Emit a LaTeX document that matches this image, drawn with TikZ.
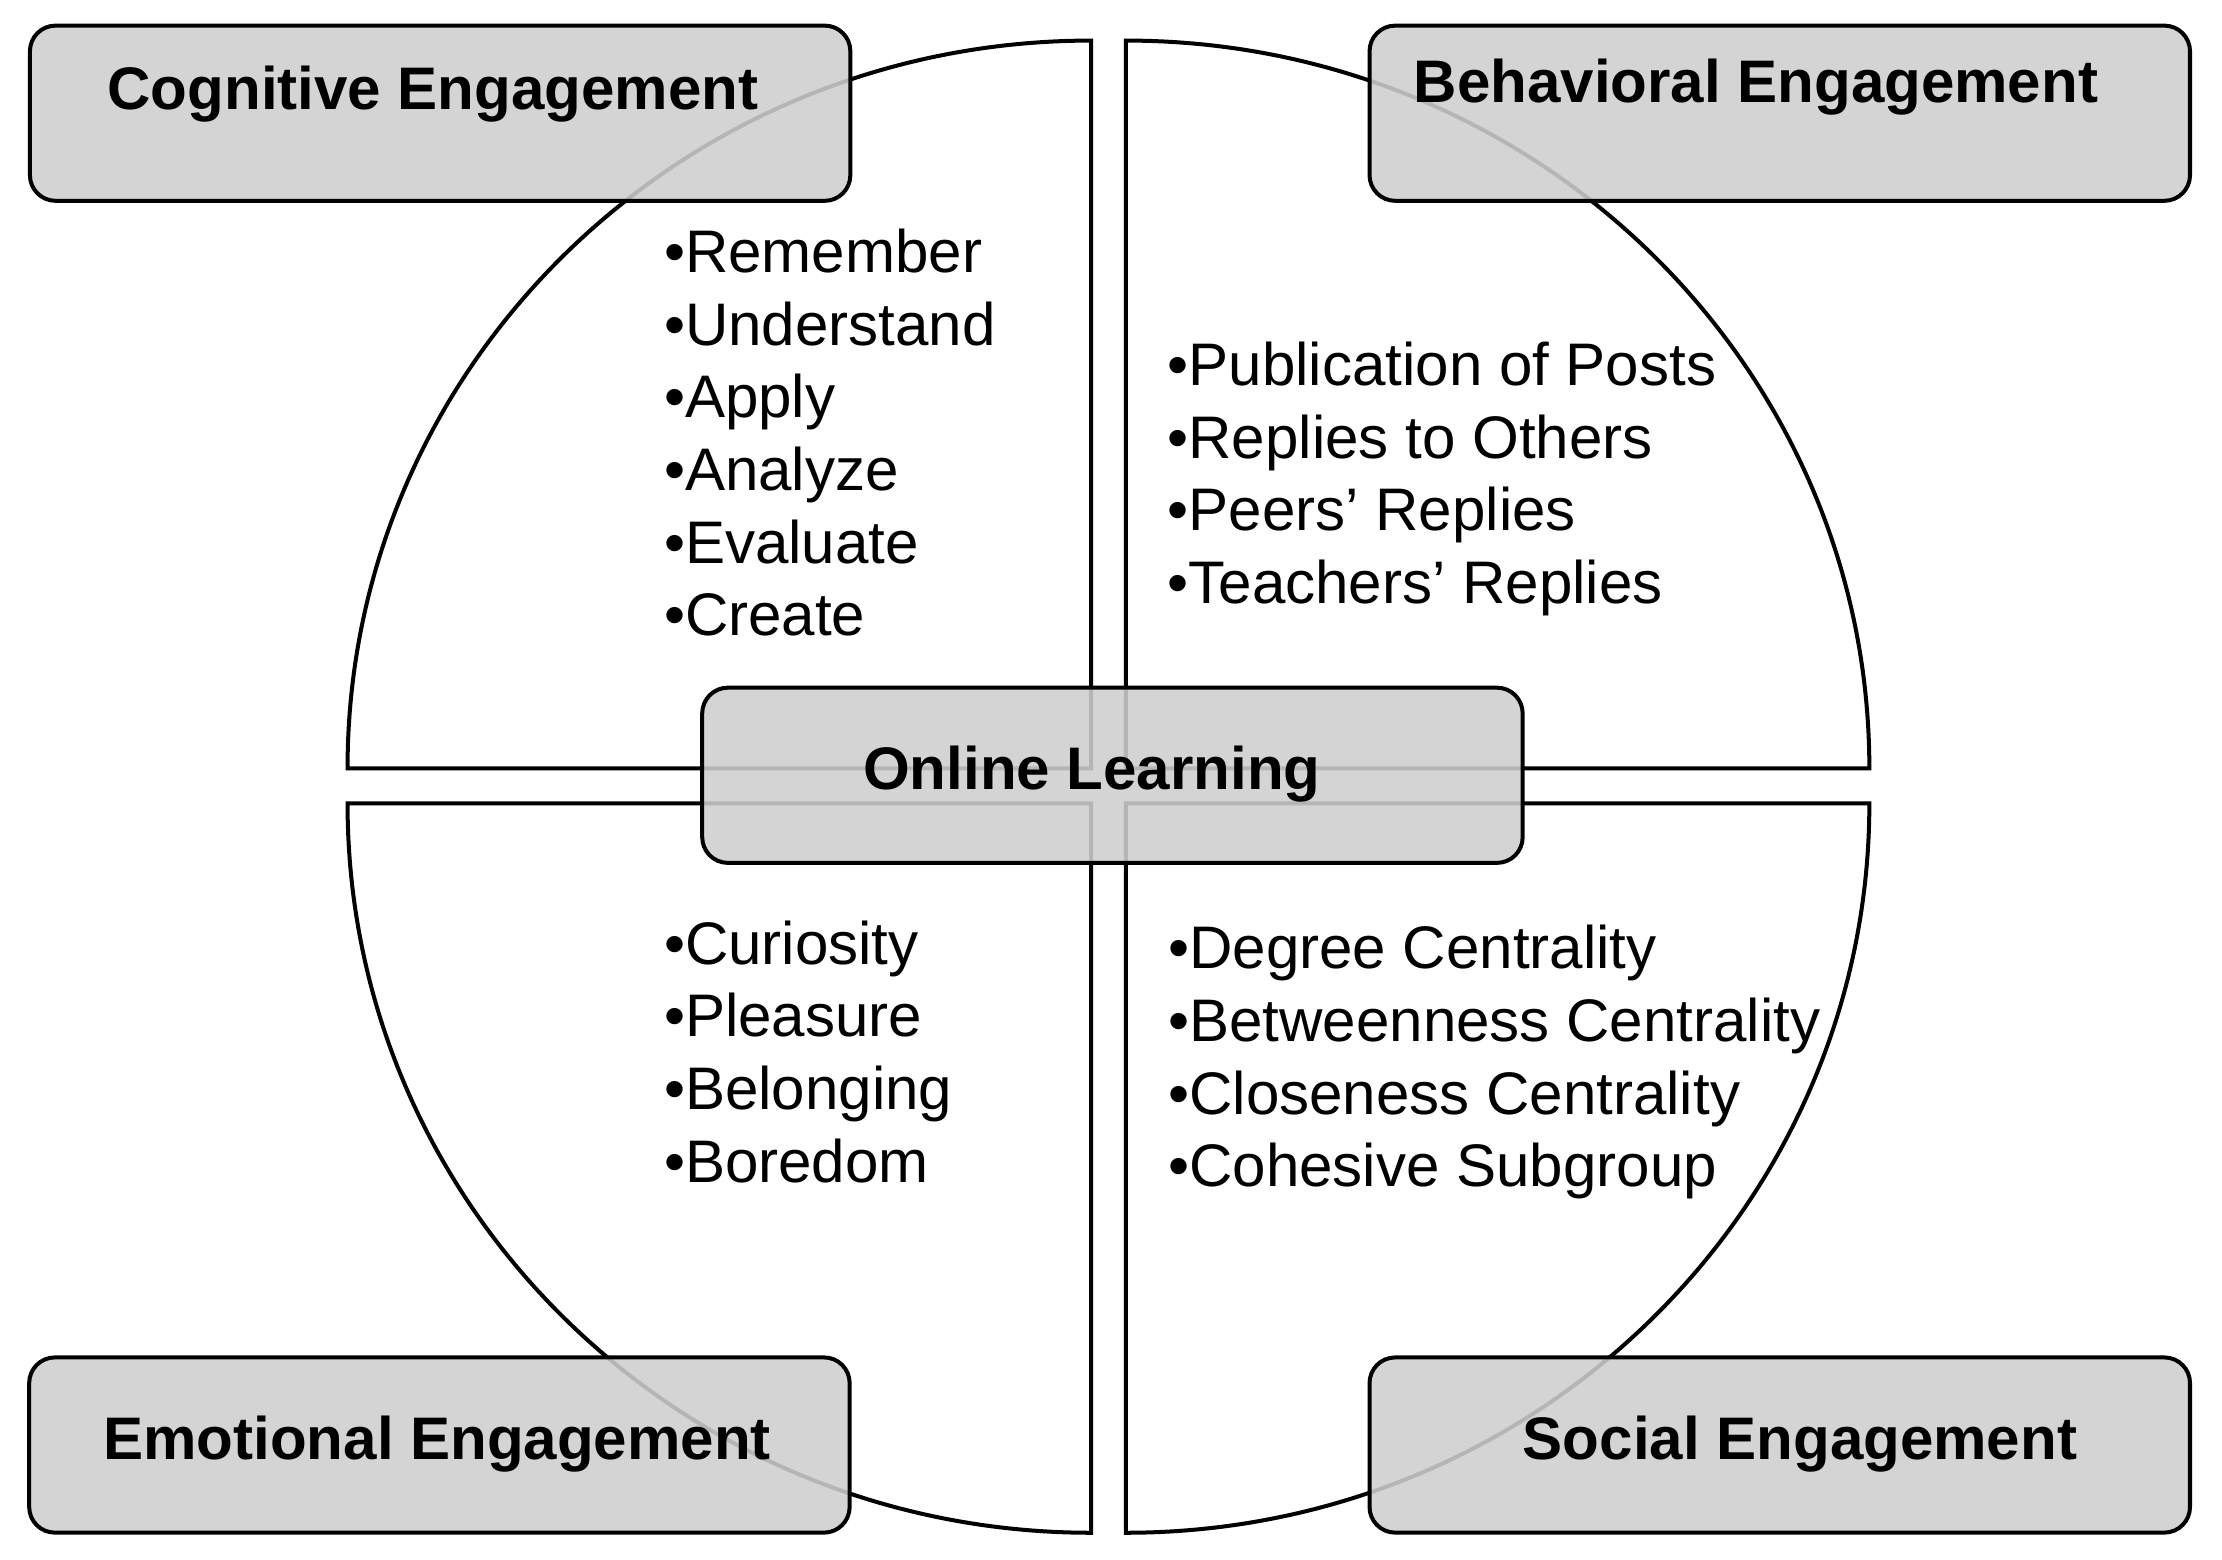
\documentclass[tikz,border=0pt]{standalone}
\usepackage{fontspec}
\setmainfont{Liberation Sans}
\usetikzlibrary{positioning}
\definecolor{boxgray}{gray}{0.81}

\begin{document}
\begin{tikzpicture}[
    quad/.style={draw, line width=0.8pt, fill=white},
    headbox/.style={draw, line width=0.8pt, rounded corners=1.8mm, fill=boxgray, fill opacity=0.88, minimum width=57.6mm, minimum height=12.3mm, inner sep=0},
    headtext/.style={font=\fontsize{12}{14.4}\selectfont\bfseries, inner sep=0, anchor=base},
    item/.style={font=\fontsize{12}{14.4}\selectfont, inner sep=0, anchor=base west}]
  \useasboundingbox (0,0) rectangle (15.6,10.952);
  \fill[white] (0,0) rectangle (15.6,10.952);

  % four quarter discs round the centre, kept apart by a small gap
  \coordinate (ctl) at (7.66,5.557);
  \coordinate (ctr) at (7.904,5.557);
  \coordinate (cbl) at (7.66,5.311);
  \coordinate (cbr) at (7.904,5.311);
  \draw[quad] (ctl) -- ++(-5.22,0) arc[start angle=180, end angle=90, x radius=5.22, y radius=5.11] -- cycle;
  \draw[quad] (ctr) -- ++(5.22,0) arc[start angle=0, end angle=90, x radius=5.22, y radius=5.11] -- cycle;
  \draw[quad] (cbl) -- ++(-5.22,0) arc[start angle=180, end angle=270, x radius=5.22, y radius=5.12] -- cycle;
  \draw[quad] (cbr) -- ++(5.22,0) arc[start angle=0, end angle=-90, x radius=5.22, y radius=5.12] -- cycle;

  % boxes on top (see-through fill)
  \node[headbox] (cog) at (3.09,10.157) {};
  \node[headbox] (beh) at (12.495,10.157) {};
  \node[headbox] (emo) at (3.085,0.807) {};
  \node[headbox] (soc) at (12.495,0.807) {};
  \node[headbox] (onl) at (7.81,5.509) {};

  \node[headtext] (cogtxt) at (3.04,10.186) {Cognitive Engagement};
  \node[headtext] (behtxt) at (12.328,10.235) {Behavioral Engagement};
  \node[headtext] (emotxt) at (3.069,0.705) {Emotional Engagement};
  \node[headtext] (soctxt) at (12.637,0.705) {Social Engagement};
  \node[headtext] (onltxt) at (7.665,5.412) {Online Learning};

  % bullet lists
  \foreach \t [count=\i] in {Remember,Understand,Apply,Analyze,Evaluate,Create}
    \node[item] (cog\i) at (4.655,{9.548-0.51*\i}) {•\t};
  \foreach \t [count=\i] in {Publication of Posts,Replies to Others,Peers’ Replies,Teachers’ Replies}
    \node[item] (beh\i) at (8.19,{8.754-0.51*\i}) {•\t};
  \foreach \t [count=\i] in {Curiosity,Pleasure,Belonging,Boredom}
    \node[item] (emo\i) at (4.655,{4.692-0.51*\i}) {•\t};
  \foreach \t [count=\i] in {Degree Centrality,Betweenness Centrality,Closeness Centrality,Cohesive Subgroup}
    \node[item] (soc\i) at (8.195,{4.66-0.51*\i}) {•\t};
\end{tikzpicture}
\end{document}
